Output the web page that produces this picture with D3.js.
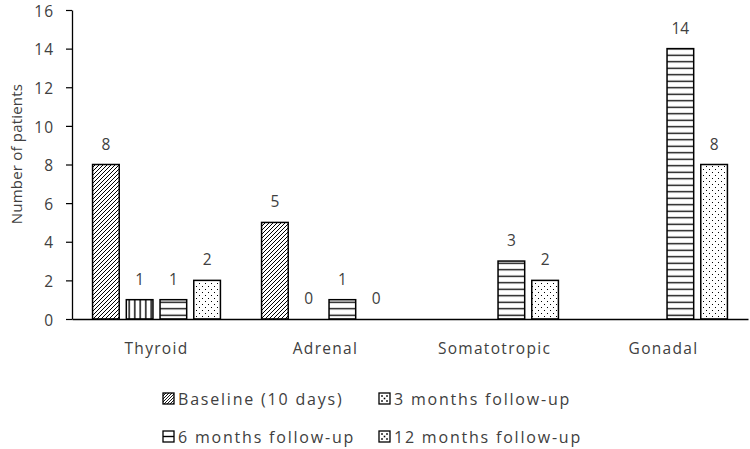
<!DOCTYPE html>
<html><head><meta charset="utf-8">
<script src="https://cdn.jsdelivr.net/npm/d3@7"></script>
<style>body{margin:0;background:#fff}text{font-family:"Open Sans",sans-serif;fill:#404040}</style>
</head><body><svg id="c" width="750" height="449"></svg>
<script>
const categories = ["Thyroid", "Adrenal", "Somatotropic", "Gonadal"];
const seriesNames = ["Baseline (10 days)", "3 months follow-up", "6 months follow-up", "12 months follow-up"];
const baseline = [8, 5, null, null];
const month3 = [1, 0, null, null];
const month6 = [1, 1, 3, 14];
const month12 = [2, 0, 2, 8];
const yTicks = [0, 2, 4, 6, 8, 10, 12, 14, 16];
const seriesValues = [baseline, month3, month6, month12];
const patterns = ["p-diag", "p-vert", "p-horz", "p-dots"];
const legendPatterns = ["l-diag", "l-dots", "l-horz", "l-dots"];

const svg = d3.select("#c");
const defs = svg.append("defs");
function pat(id, w, h, draw) {
  const p = defs.append("pattern").attr("id", id).attr("patternUnits", "userSpaceOnUse").attr("width", w).attr("height", h);
  p.append("rect").attr("width", w).attr("height", h).attr("fill", "#fff");
  draw(p);
}
pat("p-diag", 4, 4, p => p.append("path").attr("d", "M-1,1 l2,-2 M0,4 l4,-4 M3,5 l2,-2").attr("stroke", "#000").attr("stroke-width", 1));
pat("p-vert", 5.5, 10, p => p.append("line").attr("x1", 2.75).attr("x2", 2.75).attr("y1", 0).attr("y2", 10).attr("stroke", "#000").attr("stroke-width", 1.4));
pat("p-horz", 10, 6.5, p => p.append("line").attr("x1", 0).attr("x2", 10).attr("y1", 3.25).attr("y2", 3.25).attr("stroke", "#000").attr("stroke-width", 1.3));
pat("p-dots", 6, 6, p => { p.append("rect").attr("x", 1).attr("y", 1).attr("width", 1).attr("height", 1).attr("fill", "#000"); p.append("rect").attr("x", 4).attr("y", 4).attr("width", 1).attr("height", 1).attr("fill", "#000"); });
pat("l-diag", 3, 3, p => p.append("path").attr("d", "M-1,1 l2,-2 M0,3 l3,-3 M2,4 l2,-2").attr("stroke", "#000").attr("stroke-width", 0.9));
pat("l-dots", 11, 11, p => { [[3,3],[8,3],[3,8],[8,8],[5.5,5.5]].forEach(d => p.append("rect").attr("x", d[0]-0.8).attr("y", d[1]-0.8).attr("width", 1.6).attr("height", 1.6).attr("fill", "#000")); });
pat("l-horz", 11, 11, p => p.append("line").attr("x1", 0).attr("x2", 11).attr("y1", 5.5).attr("y2", 5.5).attr("stroke", "#000").attr("stroke-width", 1.4));

const x0 = d3.scaleBand().domain(categories).range([72, 748]).padding(0);
const x1 = d3.scaleBand().domain(seriesNames).range([0, x0.bandwidth()]).paddingInner(0.21).paddingOuter(0.61);
const y = d3.scaleLinear().domain([0, 16]).range([319, 10]);

// bars
const data = [];
categories.forEach((c, i) => seriesNames.forEach((s, j) => {
  const v = seriesValues[j][i];
  if (v !== null) data.push({c, s, v, j});
}));
const g = svg.append("g");
g.selectAll("rect.bar").data(data.filter(d => d.v > 0)).join("rect").attr("class", "bar")
  .attr("x", d => x0(d.c) + x1(d.s)).attr("width", x1.bandwidth())
  .attr("y", d => y(d.v)).attr("height", d => y(0) - y(d.v))
  .attr("fill", d => `url(#${patterns[d.j]})`).attr("stroke", "#000").attr("stroke-width", 1.5);
g.selectAll("text.lbl").data(data).join("text").attr("class", "lbl")
  .attr("x", d => x0(d.c) + x1(d.s) + x1.bandwidth() / 2).attr("y", d => y(d.v) - 15)
  .attr("text-anchor", "middle").attr("font-size", 15.5).text(d => d.v);

// axes
const ya = svg.append("g").attr("transform", "translate(72,0)")
  .call(d3.axisLeft(y).tickValues(yTicks).tickSize(6).tickPadding(12).tickSizeOuter(0));
ya.select(".domain").attr("stroke", "#000").attr("stroke-width", 1.3);
ya.selectAll(".tick line").attr("stroke", "#000").attr("stroke-width", 1.2);
ya.selectAll(".tick text").attr("font-size", 15.5).attr("font-family", "Open Sans").attr("fill", "#404040")
  .attr("letter-spacing", 1).attr("dy", "0.4em");

const xa = svg.append("g").attr("transform", "translate(0,319)")
  .call(d3.axisBottom(x0).tickSize(0).tickPadding(24).tickSizeOuter(0));
xa.select(".domain").attr("stroke", "#000").attr("stroke-width", 1.3);
xa.selectAll(".tick text").attr("font-size", 15.5).attr("font-family", "Open Sans").attr("fill", "#404040").attr("letter-spacing", 1.3);

svg.append("text").attr("transform", "translate(22,154) rotate(-90)").attr("text-anchor", "middle")
  .attr("font-size", 15).attr("letter-spacing", 0.2).text("Number of patients");

// legend
const legPos = [[163, 393], [379, 393], [163, 431], [379, 431]];
seriesNames.forEach((s, j) => {
  const [lx, ly] = legPos[j];
  const lg = svg.append("g").attr("transform", `translate(${lx},${ly})`);
  lg.append("rect").attr("width", 11).attr("height", 11).attr("fill", `url(#${legendPatterns[j]})`)
    .attr("stroke", "#000").attr("stroke-width", 1.3);
  lg.append("text").attr("x", 15).attr("y", 11.5).attr("font-size", 16).attr("letter-spacing", 1.8).text(s);
});
</script></body></html>
